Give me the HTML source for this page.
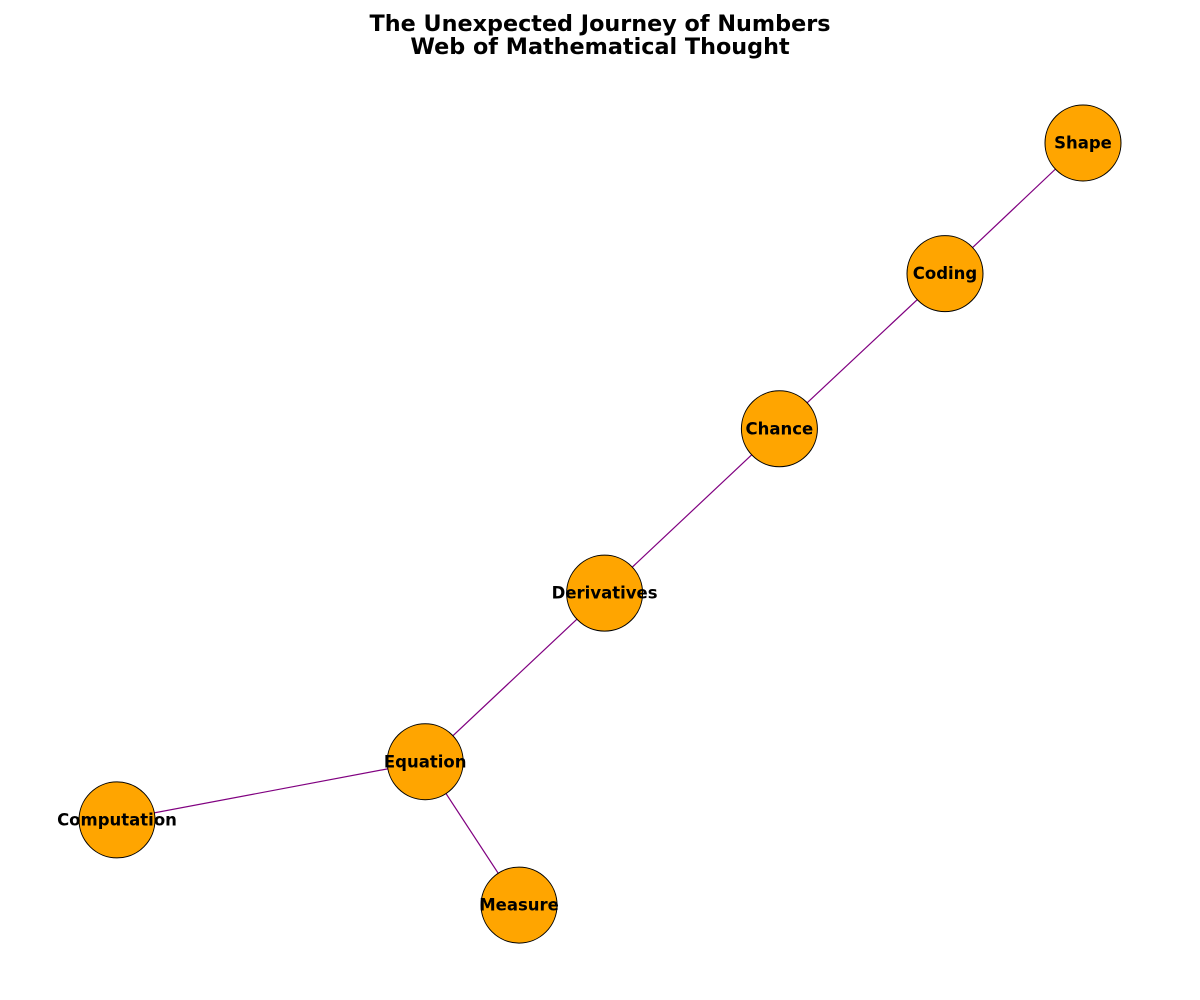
<!DOCTYPE html>
<html>
<head>
<meta charset="utf-8">
<style>
  html, body { margin: 0; padding: 0; background: #fff; }
  svg { display: block; }
</style>
</head>
<body>
<svg id="chart" width="1200" height="1000" viewBox="0 0 1200 1000">
  <rect width="1200" height="1000" fill="#ffffff"/>
  <g font-family="'DejaVu Sans', 'Liberation Sans', sans-serif" font-weight="bold" font-size="22.3" text-anchor="middle" fill="#000">
    <text x="600" y="31">The Unexpected Journey of Numbers</text>
    <text x="600" y="54">Web of Mathematical Thought</text>
  </g>
  <g id="edges"></g>
  <g id="nodes"></g>
</svg>
<script>
const nodeNames = ["Shape", "Coding", "Chance", "Derivatives", "Equation", "Computation", "Measure"];
const layoutX = [0.93, 0.78, 0.60, 0.41, 0.215, -0.12, 0.317];
const layoutY = [1.0, 0.845, 0.661, 0.466, 0.266, 0.197, 0.096];
const edgeSources = ["Shape", "Coding", "Chance", "Derivatives", "Equation", "Equation"];
const edgeTargets = ["Coding", "Chance", "Derivatives", "Equation", "Computation", "Measure"];

const NS = "http://www.w3.org/2000/svg";
// axis functions mapping layout coordinates to pixels
const xScale = v => 117 + (v + 0.12) * 920;
const yScale = v => 143 + (1.0 - v) * 843;
const R = 38;

const edgesG = document.getElementById("edges");
const nodesG = document.getElementById("nodes");

for (let i = 0; i < edgeSources.length; i++) {
  const a = nodeNames.indexOf(edgeSources[i]);
  const b = nodeNames.indexOf(edgeTargets[i]);
  const line = document.createElementNS(NS, "line");
  line.setAttribute("x1", xScale(layoutX[a]));
  line.setAttribute("y1", yScale(layoutY[a]));
  line.setAttribute("x2", xScale(layoutX[b]));
  line.setAttribute("y2", yScale(layoutY[b]));
  line.setAttribute("stroke", "#800080");
  line.setAttribute("stroke-width", "1.2");
  
  
  edgesG.appendChild(line);
}

for (let i = 0; i < nodeNames.length; i++) {
  const g = document.createElementNS(NS, "g");
  
  
  const c = document.createElementNS(NS, "circle");
  c.setAttribute("cx", xScale(layoutX[i]));
  c.setAttribute("cy", yScale(layoutY[i]));
  c.setAttribute("r", R);
  c.setAttribute("fill", "#FFA500");
  c.setAttribute("stroke", "#000");
  c.setAttribute("stroke-width", "1");
  
  
  const t = document.createElementNS(NS, "text");
  t.setAttribute("x", xScale(layoutX[i]));
  t.setAttribute("y", yScale(layoutY[i]) + 5.5);
  t.setAttribute("text-anchor", "middle");
  t.setAttribute("font-family", "'DejaVu Sans', 'Liberation Sans', sans-serif");
  t.setAttribute("font-weight", "bold");
  t.setAttribute("font-size", "16.5");
  t.setAttribute("fill", "#000");
  t.textContent = nodeNames[i];
  
  
  g.appendChild(c);
  g.appendChild(t);
  nodesG.appendChild(g);
}
</script>
</body>
</html>
